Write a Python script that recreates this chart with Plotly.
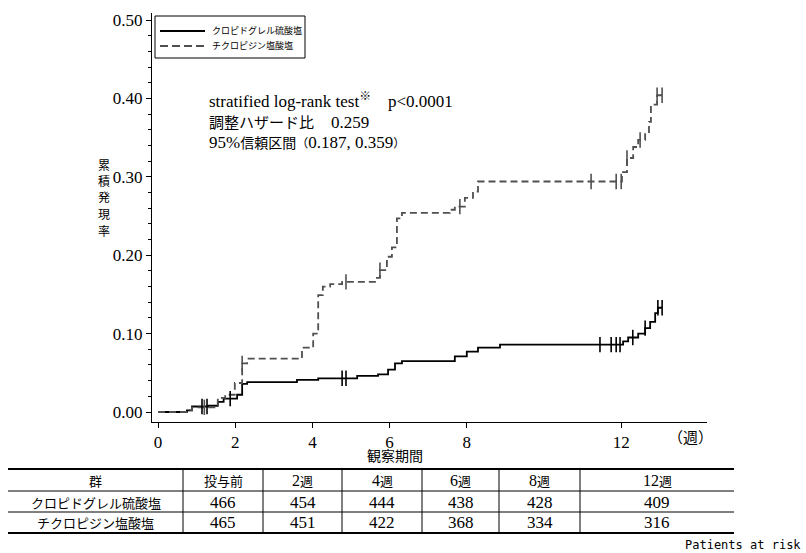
import plotly.graph_objects as go

# ---------------- data ----------------
clop_name = "クロピドグレル硫酸塩"
tic_name = "チクロピジン塩酸塩"

clop_t = [0, 0.75, 0.88, 1.30, 1.55, 1.70, 2.05, 2.18, 2.31, 3.60, 4.15, 5.16, 5.70, 5.96,
          6.14, 6.32, 7.69, 8.00, 8.29, 8.86, 12.05, 12.18, 12.44, 12.62, 12.75, 12.88, 12.95, 13.06]
clop_y = [0, 0.002, 0.007, 0.008, 0.013, 0.017, 0.022, 0.036, 0.038, 0.041, 0.043, 0.046, 0.048, 0.054,
          0.062, 0.065, 0.071, 0.077, 0.082, 0.086, 0.090, 0.095, 0.100, 0.107, 0.115, 0.126, 0.133, 0.133]
clop_cens = [1.14, 1.27, 1.87, 4.77, 4.87, 11.45, 11.74, 11.87, 11.97, 12.30, 12.62, 12.95, 13.06]

tic_t = [0, 0.75, 0.88, 1.55, 1.74, 1.99, 2.18, 2.31, 3.73, 4.02, 4.15, 4.27, 4.46, 4.77, 5.67,
         5.75, 5.93, 6.06, 6.19, 6.32, 7.56, 7.69, 7.95, 8.16, 8.29, 12.02, 12.15, 12.31, 12.44,
         12.62, 12.72, 12.77, 12.93, 13.06]
tic_y = [0, 0.002, 0.006, 0.018, 0.022, 0.037, 0.062, 0.068, 0.082, 0.100, 0.149, 0.160, 0.163, 0.166, 0.171,
         0.181, 0.198, 0.210, 0.247, 0.254, 0.258, 0.262, 0.273, 0.281, 0.294, 0.306, 0.324, 0.338, 0.347,
         0.357, 0.370, 0.392, 0.404, 0.404]
tic_cens = [1.20, 2.18, 4.87, 5.75, 7.82, 11.22, 11.87, 12.00, 12.15, 12.49, 12.93, 13.06]

x_ticks = [0, 2, 4, 6, 8, 12]
y_ticks = [0.0, 0.1, 0.2, 0.3, 0.4, 0.5]

table_header = ["群", "投与前", "2週", "4週", "6週", "8週", "12週"]
table_clop = [clop_name, "466", "454", "444", "438", "428", "409"]
table_tic = [tic_name, "465", "451", "422", "368", "334", "316"]


def jp(text, size):
    return f'<span style="font-family:Noto Sans CJK JP;font-size:{size}px">{text}</span>'


stats_lines = ["stratified log-rank test<sup>※</sup>    p&lt;0.0001",
               jp("調整ハザード比", 15) + "　0.259",
               "95%" + jp("信頼区間", 14) + jp("（", 12) + "0.187, 0.359" + jp("）", 12)]

y_title = "累積発現率"
x_title = "観察期間"
x_unit = "（週）"

# ---------------- helpers ----------------
W, H = 806, 553
L, R, T, B = 152, 707, 13, 422   # plot area in pixels


def px(x):
    return (x - L) / (R - L)


def py(y):
    return (B - y) / (B - T)


def step_at(ts, ys, t):
    v = ys[0]
    for ti, yi in zip(ts, ys):
        if ti <= t + 1e-9:
            v = yi
    return v


SERIF = "Liberation Serif, Noto Sans CJK JP, serif"
JP = "Noto Sans CJK JP, Liberation Serif, serif"

series = [
    dict(name=clop_name, t=clop_t, y=clop_y, cens=clop_cens, color="black", dash="solid"),
    dict(name=tic_name, t=tic_t, y=tic_y, cens=tic_cens, color="#505050", dash="7px,4px"),
]

fig = go.Figure()
for s in series:
    fig.add_trace(go.Scatter(x=s["t"], y=s["y"], mode="lines", line_shape="hv",
                             line=dict(color=s["color"], width=1.8, dash=s["dash"]),
                             name=s["name"], showlegend=False))
for s in series:
    fig.add_trace(go.Scatter(x=s["cens"], y=[step_at(s["t"], s["y"], t) for t in s["cens"]],
                             mode="markers", showlegend=False, hoverinfo="skip",
                             marker=dict(symbol="line-ns", size=11,
                                         line=dict(color=s["color"], width=1.6))))

x_lo = (L - 158) / 38.6
x_hi = (R - 158) / 38.6
y_lo = -(B - 412) / 784
y_hi = (412 - T) / 784

fig.update_xaxes(range=[x_lo, x_hi], tickvals=x_ticks, ticktext=[str(v) for v in x_ticks],
                 showline=True, linecolor="black", linewidth=1, ticks="outside", ticklen=5,
                 tickcolor="black", showgrid=False, zeroline=False,
                 tickfont=dict(family=SERIF, size=17, color="black"))
fig.update_yaxes(range=[y_lo, y_hi], tickvals=y_ticks, ticktext=[f"{v:.2f}" for v in y_ticks],
                 showline=True, linecolor="black", linewidth=1, ticks="outside", ticklen=5,
                 tickcolor="black", showgrid=False, zeroline=False,
                 minor=dict(dtick=0.02, ticks="outside", ticklen=3, tickcolor="black", showgrid=False),
                 tickfont=dict(family=SERIF, size=17, color="black"))

annotations = []
shapes = []


def note(x, y, text, size=17, family=SERIF, xanchor="center"):
    annotations.append(dict(x=px(x), y=py(y), xref="paper", yref="paper", text=text,
                            showarrow=False, xanchor=xanchor, yanchor="middle",
                            font=dict(family=family, size=size, color="black")))


def hline(x0, x1, y, width=1, color="black", dash="solid"):
    shapes.append(dict(type="line", xref="paper", yref="paper", x0=px(x0), x1=px(x1),
                       y0=py(y), y1=py(y), line=dict(color=color, width=width, dash=dash)))


# legend (drawn manually)
shapes.append(dict(type="rect", xref="paper", yref="paper", x0=px(155), x1=px(305),
                   y0=py(16), y1=py(58), line=dict(color="black", width=1), fillcolor="white"))
for i, s in enumerate(series):
    yy = 31 + 15 * i
    hline(160, 205, yy, width=1.8, color=s["color"], dash="solid" if s["dash"] == "solid" else "8px,4px")
    note(210, yy, s["name"], size=9, family=JP, xanchor="left")

# stats text
for i, s in enumerate(stats_lines):
    note(207, 100 + 21 * i, s, size=17, xanchor="left")
# axis titles
note(395, 455, x_title, size=14, family=JP)
note(690, 437, x_unit, size=15, family=JP)
for i, ch in enumerate(y_title):
    note(104, 164 + 16.5 * i, ch, size=12, family=JP)

# table
col_edges = [8, 183, 263, 342, 422, 499, 580, 734]
row_edges = [469, 491, 512, 532]
for yy, wd in [(469, 2), (491, 1), (512, 1), (533, 2)]:
    hline(8, 734, yy, width=wd)
for xe in col_edges[1:-1]:
    shapes.append(dict(type="line", xref="paper", yref="paper", x0=px(xe), x1=px(xe),
                       y0=py(469), y1=py(533), line=dict(color="black", width=1)))

for r, row in enumerate([table_header, table_clop, table_tic]):
    yc = (row_edges[r] + row_edges[r + 1]) / 2 + 0.5
    for c, txt in enumerate(row):
        xc = (col_edges[c] + col_edges[c + 1]) / 2
        if r == 0 and c > 1:
            note(xc, yc, txt[:-1] + jp(txt[-1], 13), size=16, family=SERIF)
        elif c == 0 or r == 0:
            note(xc, yc, txt, size=13, family=JP)
        else:
            note(xc, yc, txt, size=17, family=SERIF)

note(803, 545, "Patients at risk", size=12, family="DejaVu Sans Mono, monospace", xanchor="right")

fig.update_layout(
    width=W, height=H,
    margin=dict(l=L, r=W - R, t=T, b=H - B),
    paper_bgcolor="white", plot_bgcolor="white",
    showlegend=False,
    annotations=annotations,
    shapes=shapes,
)

fig.write_html("out.html")
